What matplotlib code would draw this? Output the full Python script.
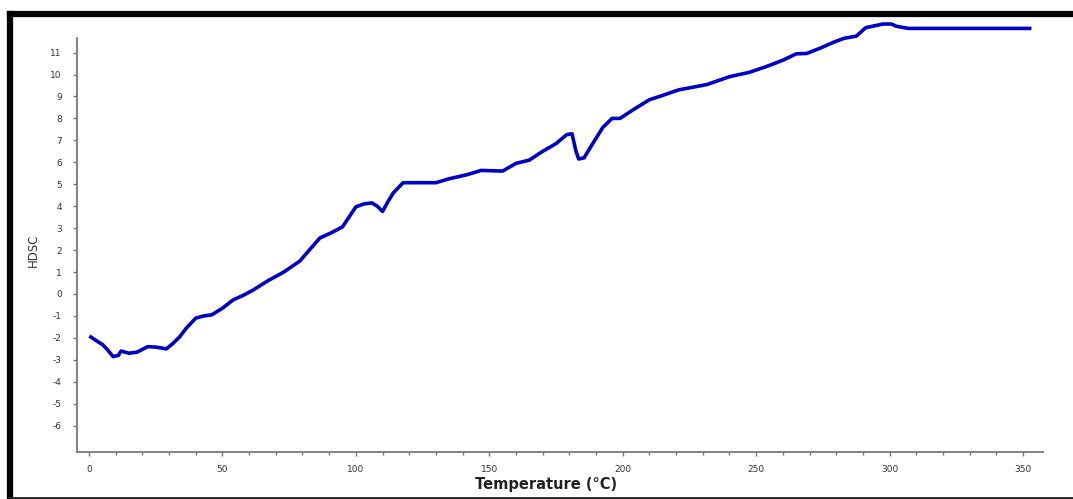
import numpy as np
import matplotlib
matplotlib.use('Agg')
import matplotlib.pyplot as plt
from matplotlib.lines import Line2D
from matplotlib.ticker import MultipleLocator

plt.rcParams['axes.unicode_minus'] = False

# data
temp = [0.7, 3, 5, 7, 9, 11, 12, 15, 18, 22, 25, 29, 31.5, 34, 36.5, 40, 43,
        46, 50, 54, 58, 61.5, 67, 73, 79, 86.5, 91, 95, 100, 103, 106, 108,
        110, 112, 114, 117.7, 130, 135, 141.5, 147, 155, 160, 165, 170, 175,
        179, 181, 182.5, 183.5, 185.5, 189, 192.5, 196, 199, 204, 210, 215,
        221, 231.5, 240, 247.5, 254, 260, 265, 269, 274, 279, 283, 287.6, 291,
        297.5, 300.7, 302.5, 307, 352.5]
hdsc = [-1.96, -2.15, -2.3, -2.55, -2.85, -2.8, -2.6, -2.7, -2.65, -2.4,
        -2.42, -2.5, -2.25, -1.95, -1.55, -1.1, -1.0, -0.95, -0.65, -0.27,
        -0.05, 0.18, 0.6, 1.0, 1.5, 2.55, 2.8, 3.06, 3.97, 4.1, 4.15, 4.0,
        3.76, 4.2, 4.6, 5.07, 5.07, 5.25, 5.43, 5.63, 5.6, 5.95, 6.1, 6.5,
        6.85, 7.26, 7.3, 6.5, 6.15, 6.2, 6.9, 7.58, 8.0, 8.0, 8.4, 8.85, 9.05,
        9.3, 9.54, 9.9, 10.1, 10.37, 10.65, 10.94, 10.96, 11.2, 11.47, 11.65,
        11.75, 12.13, 12.3, 12.3, 12.2, 12.1, 12.1]
yticks = list(range(-6, 12))
xticks = [0, 50, 100, 150, 200, 250, 300, 350]

W, H = 1073, 499
fig = plt.figure(figsize=(W / 100, H / 100), dpi=100)
ax = fig.add_axes([77 / W, 1 - 452 / H, (1043 - 77) / W, (452 - 17) / H])

ax.plot(temp, hdsc, color='#0000c4', lw=2.6, solid_joinstyle='round')

ax.set_xlim(-4.5, 357.5)
ax.set_ylim(-7.2, 12.62)
ax.set_xticks(xticks)
ax.xaxis.set_minor_locator(MultipleLocator(10))
ax.set_yticks(yticks)

for s in ['top', 'right']:
    ax.spines[s].set_visible(False)
for s in ['left', 'bottom']:
    ax.spines[s].set_color('#777777')
    ax.spines[s].set_linewidth(1.3)
ax.spines['left'].set_bounds(-7.2, 11.66)

ax.tick_params(which='both', direction='out', colors='#777777',
               labelcolor='#333333', labelsize=6.5)
ax.tick_params(which='major', length=3, width=1)
ax.tick_params(which='minor', length=2, width=1)
ax.tick_params(axis='y', pad=8)
ax.tick_params(axis='x', pad=6)

ax.set_xlabel('Temperature (°C)', fontsize=10.5, fontweight='bold',
              color='#222222', va='center')
ax.xaxis.set_label_coords((546 - 77) / (1043 - 77), -(485 - 452) / (452 - 17))
ax.set_ylabel('HDSC', fontsize=8.5, color='#333333')
ax.yaxis.set_label_coords(-(77 - 40) / (1043 - 77), (452 - 250) / (452 - 17))

# black frame round the picture
fig.add_artist(Line2D([10 / W, 1.05], [1 - 14 / H, 1 - 14 / H],
                      transform=fig.transFigure, color='black', lw=4.5))
fig.add_artist(Line2D([10 / W, 10 / W], [1 - 14 / H, -0.05],
                      transform=fig.transFigure, color='black', lw=4.5))
fig.add_artist(Line2D([10 / W, 1.05], [1 - 497.5 / H, 1 - 497.5 / H],
                      transform=fig.transFigure, color='#222222', lw=2))

fig.savefig('out.png', dpi=100)
